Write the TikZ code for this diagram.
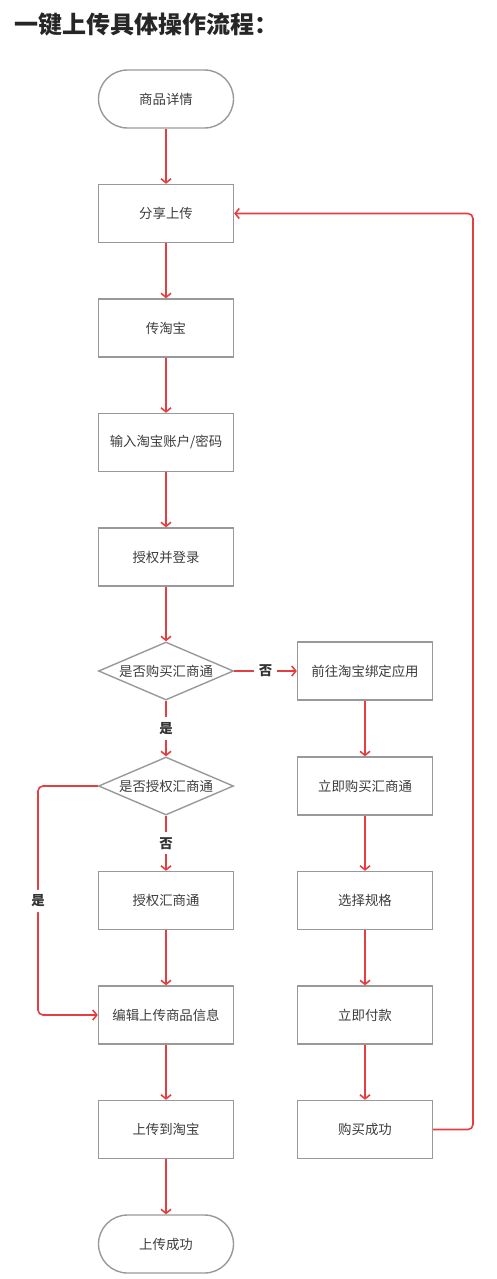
\documentclass[tikz,border=0pt]{standalone}
\usepackage{fontspec}
\setmainfont{Noto Sans CJK SC}
\usetikzlibrary{shapes.geometric,arrows.meta}
\definecolor{flowred}{HTML}{E53E40}
\definecolor{boxgray}{HTML}{999999}
\definecolor{txtgray}{HTML}{3C3C3C}

\begin{document}
\begin{tikzpicture}[x=1pt, y=-1pt,
    box/.style = {rectangle, draw=boxgray, line width=1.4pt, minimum width=135pt, minimum height=58pt, inner sep=0pt, text=txtgray, font=\fontsize{13.4}{16}\selectfont},
    term/.style = {box, rounded corners=29pt},
    cond/.style = {box, diamond, aspect=2.33},
    flow/.style = {draw=flowred, line width=1.6pt, -{Straight Barb[length=4pt, width=10pt]}},
    lbl/.style = {fill=white, inner sep=5pt, text=black!80, font=\fontsize{13.4}{16}\selectfont\bfseries}]
    \useasboundingbox (0,0) rectangle (496,1279);

    \node[anchor=west, text=black!85, font=\fontsize{24}{28}\selectfont\bfseries] (title) at (11,25) {一键上传具体操作流程：};

    \node[term] (detail) at (166, 99) {商品详情};
    \node[box] (share) at (166, 213.5) {分享上传};
    \node[box] (taobao) at (166, 328) {传淘宝};
    \node[box] (account) at (166, 442.5) {输入淘宝账户/密码};
    \node[box] (login) at (166, 557) {授权并登录};
    \node[cond] (bought) at (166, 671) {是否购买汇商通};
    \node[cond] (granted) at (166, 786) {是否授权汇商通};
    \node[box] (grant) at (166, 900.5) {授权汇商通};
    \node[box] (edit) at (166, 1015) {编辑上传商品信息};
    \node[box] (upload) at (166, 1129.5) {上传到淘宝};
    \node[term] (done) at (166, 1244) {上传成功};

    \node[box] (bind) at (365, 671) {前往淘宝绑定应用};
    \node[box] (buy) at (365, 786) {立即购买汇商通};
    \node[box] (spec) at (365, 900.5) {选择规格};
    \node[box] (pay) at (365, 1015) {立即付款};
    \node[box] (bought ok) at (365, 1129.5) {购买成功};

    \coordinate (loop right) at (473, 1129.5);
    \coordinate (loop left) at (38, 901);

    \draw[flow] (detail) -- (share);
    \draw[flow] (share) -- (taobao);
    \draw[flow] (taobao) -- (account);
    \draw[flow] (account) -- (login);
    \draw[flow] (login) -- (bought);
    \draw[flow] (bought) -- node[lbl] {是} (granted);
    \draw[flow] (bought) -- node[lbl] {否} (bind);
    \draw[flow] (granted) -- node[lbl] {否} (grant);
    \draw[flow, rounded corners=5pt] (granted.west) -| (loop left) node[lbl] {是} |- (edit.west);
    \draw[flow] (grant) -- (edit);
    \draw[flow] (edit) -- (upload);
    \draw[flow] (upload) -- (done);

    \draw[flow] (bind) -- (buy);
    \draw[flow] (buy) -- (spec);
    \draw[flow] (spec) -- (pay);
    \draw[flow] (pay) -- (bought ok);
    \draw[flow, rounded corners=5pt] (bought ok.east) -- (loop right) |- (share.east);
\end{tikzpicture}
\end{document}
